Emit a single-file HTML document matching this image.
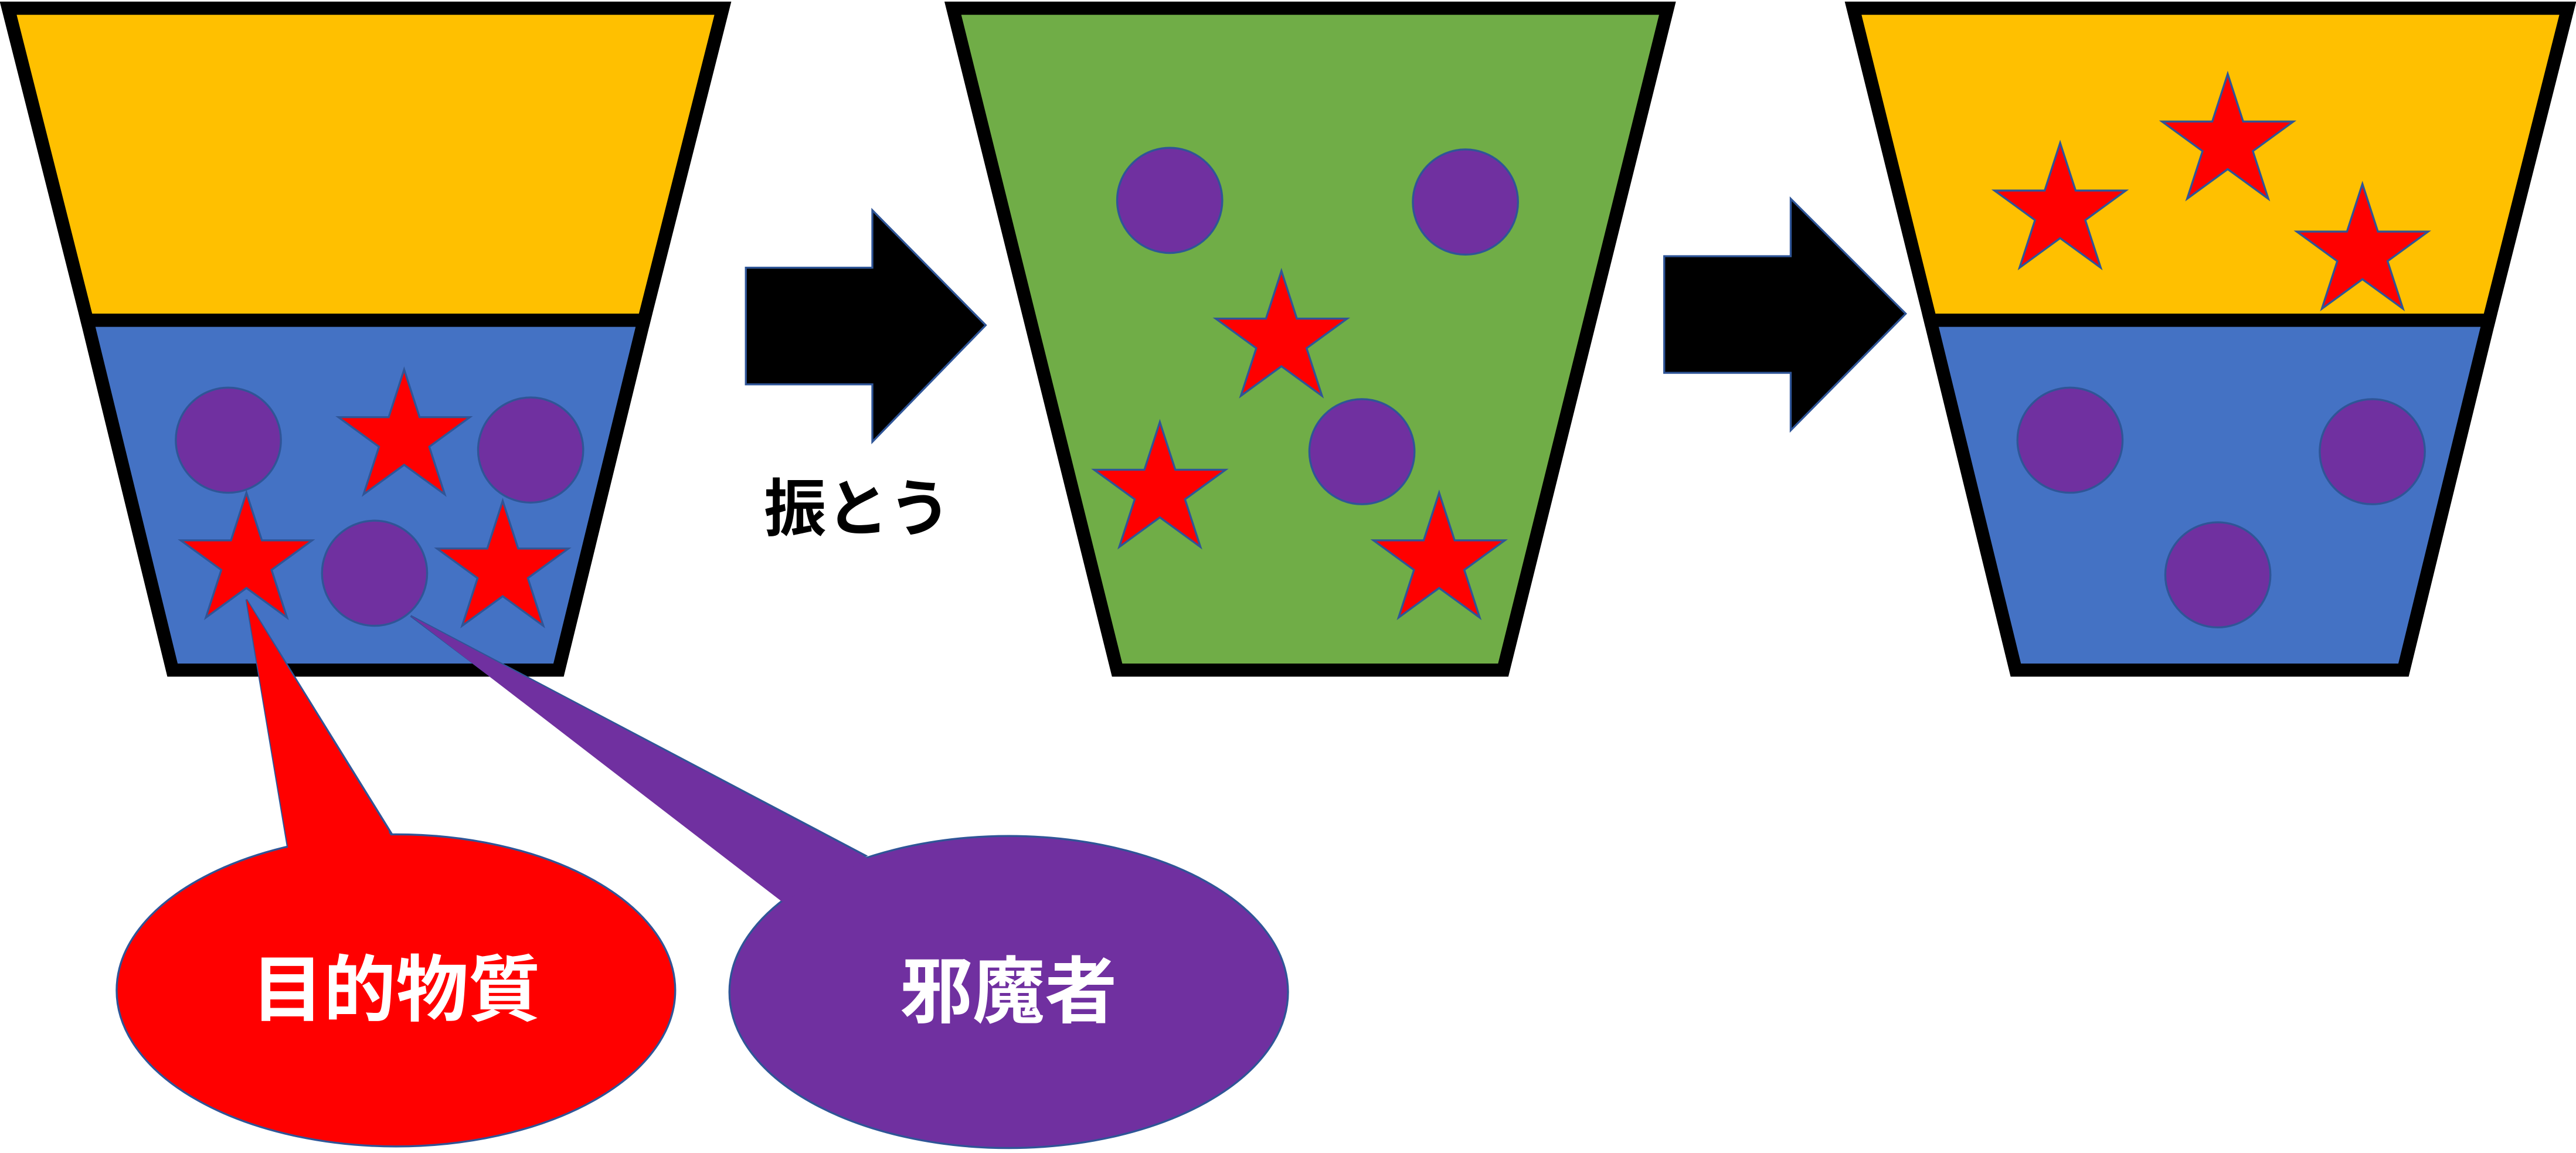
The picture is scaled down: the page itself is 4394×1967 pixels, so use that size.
<!DOCTYPE html>
<html><head><meta charset="utf-8"><style>
html,body{margin:0;padding:0;background:#fff;}
svg{display:block;}
</style></head><body>
<svg width="4394" height="1967" viewBox="0 0 1568 702" preserveAspectRatio="none" xmlns="http://www.w3.org/2000/svg">
<defs>
<path id="st" d="M0,-42 L9.4,-13 L40,-13 L15.3,5 L24.7,34 L0,16 L-24.7,34 L-15.3,5 L-40,-13 L-9.4,-13 Z" fill="#FF0000" stroke="#2F5597" stroke-width="1.2"/>
</defs>
<polygon points="5,5 440,5 392,195 53,195" fill="#FFC000" stroke="#000" stroke-width="8"/>
<polygon points="53,195 392,195 340,408 105,408" fill="#4472C4" stroke="#000" stroke-width="8"/>
<g fill="#7030A0" stroke="#2F5597" stroke-width="1.2">
<circle cx="139" cy="268" r="32"/><circle cx="323" cy="274" r="32"/><circle cx="228" cy="349" r="32"/>
</g>
<use href="#st" x="246" y="267"/><use href="#st" x="150" y="342"/><use href="#st" x="306" y="347"/>
<polygon points="454,163 531,163 531,128 600,198 531,269 531,234 454,234" fill="#000" stroke="#2F5597" stroke-width="1.2"/>
<text x="522" y="323" font-family="Liberation Sans, Noto Sans CJK JP, sans-serif" font-weight="bold" font-size="38" text-anchor="middle" fill="#000">振とう</text>
<polygon points="580,5 1015,5 915,408 680,408" fill="#70AD47" stroke="#000" stroke-width="8"/>
<g fill="#7030A0" stroke="#2F5597" stroke-width="1.2">
<circle cx="712" cy="122" r="32"/><circle cx="892" cy="123" r="32"/><circle cx="829" cy="275" r="32"/>
</g>
<use href="#st" x="780" y="207"/><use href="#st" x="706" y="299"/><use href="#st" x="876" y="342"/>
<polygon points="1013,156 1090,156 1090,121 1160,191 1090,262 1090,227 1013,227" fill="#000" stroke="#2F5597" stroke-width="1.2"/>
<polygon points="1128,5 1563,5 1515,195 1175,195" fill="#FFC000" stroke="#000" stroke-width="8"/>
<polygon points="1175,195 1515,195 1463,408 1227,408" fill="#4472C4" stroke="#000" stroke-width="8"/>
<g fill="#7030A0" stroke="#2F5597" stroke-width="1.2">
<circle cx="1260" cy="268" r="32"/><circle cx="1444" cy="275" r="32"/><circle cx="1350" cy="350" r="32"/>
</g>
<use href="#st" x="1254" y="129"/><use href="#st" x="1356" y="87"/><use href="#st" x="1438" y="154"/>
<g stroke="#2F5597" stroke-width="1.2">
<path d="M175,515 L150,365 L238,507 Z" fill="#FF0000"/>
<ellipse cx="241" cy="603" rx="170" ry="95" fill="#FF0000"/>
</g>
<path d="M175.5,517 L150,365 L238,509 Z" fill="#FF0000"/>
<g stroke="#2F5597" stroke-width="1.2">
<path d="M478,547 L250,375 L527,521 Z" fill="#7030A0"/>
<ellipse cx="614" cy="604" rx="170" ry="95" fill="#7030A0"/>
</g>
<path d="M476,549 L250,375 L529,523 Z" fill="#7030A0"/>
<text x="241" y="618" font-family="Liberation Sans, Noto Sans CJK JP, sans-serif" font-weight="bold" font-size="44" text-anchor="middle" fill="#fff">目的物質</text>
<text x="614" y="619" font-family="Liberation Sans, Noto Sans CJK JP, sans-serif" font-weight="bold" font-size="44" text-anchor="middle" fill="#fff">邪魔者</text>
</svg>
</body></html>
